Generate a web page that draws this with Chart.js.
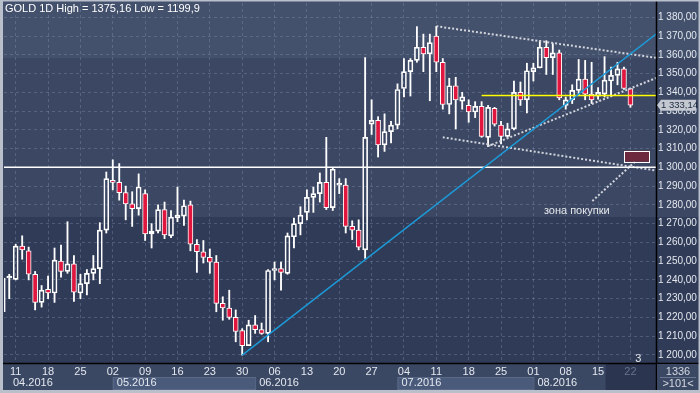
<!DOCTYPE html>
<html>
<head>
<meta charset="utf-8">
<script src="https://cdn.jsdelivr.net/npm/chart.js@4.4.1/dist/chart.umd.min.js"></script>
<style>
    html, body { margin: 0; padding: 0; background: #3a4661; }
</style>
</head>
<body>
<canvas id="goldChart" width="700" height="393"></canvas>
<script>
// GOLD daily candles, one per trading day (index 0 = 07.04.2016)
const opens = [
    1223, 1241, 1240.3, 1258, 1255.5, 1243, 1228, 1235, 1233, 1250,
    1244.5, 1248.5, 1233, 1238, 1243.5, 1246, 1266.5, 1293, 1292, 1286.5,
    1280.5, 1278, 1286, 1264.5, 1266, 1277.5, 1263.5, 1273, 1274, 1280,
    1259, 1255, 1252, 1249.5, 1227.5, 1225, 1220, 1213, 1205, 1216,
    1213.5, 1211.5, 1245, 1246, 1243.5, 1263, 1270, 1276, 1284, 1286,
    1292, 1278.5, 1290.5, 1290.5, 1268.5, 1266.5, 1256, 1323, 1325, 1312,
    1319, 1322.5, 1342, 1351, 1357, 1364, 1360.5, 1370, 1356, 1333.5,
    1343.5, 1335.3, 1333, 1329.5, 1332.5, 1316, 1331.5, 1322.5, 1316.5, 1320.5,
    1340, 1336, 1351, 1353, 1364, 1358.5, 1361, 1333, 1336, 1341,
    1347, 1339, 1338, 1339, 1346, 1349, 1352.5, 1342
];
const highs = [
    1241.5, 1243, 1259, 1263.5, 1257.5, 1244.5, 1237, 1242, 1257, 1258.5,
    1271, 1253, 1243, 1245.5, 1253, 1270.5, 1297.5, 1304, 1302, 1290,
    1287, 1296.5, 1288, 1270, 1280, 1281.5, 1277, 1289.5, 1282.5, 1282,
    1261.5, 1261, 1256.5, 1253, 1231, 1234.5, 1224, 1214, 1218.5, 1221,
    1217, 1245.5, 1249.5, 1249.5, 1265, 1273, 1279, 1288, 1289.5, 1297,
    1316, 1300, 1294, 1294, 1271.5, 1272, 1358.5, 1336, 1327, 1328.5,
    1324.5, 1344.5, 1358, 1358, 1375, 1371, 1371, 1375.16, 1358, 1347.5,
    1348, 1340, 1336, 1335, 1335, 1333, 1332, 1324.5, 1323.5, 1346,
    1345.5, 1355.5, 1355.5, 1367.5, 1367.5, 1366, 1362.5, 1337.5, 1344, 1357.5,
    1357, 1356, 1342.5, 1359, 1353.5, 1356, 1353.5, 1342
];
const lows = [
    1221, 1230, 1240, 1251, 1240, 1224, 1225.5, 1230, 1228, 1241.5,
    1243.5, 1228.5, 1230, 1232, 1240, 1238, 1265, 1288, 1282.5, 1272,
    1268.5, 1274.5, 1261, 1257, 1265, 1262, 1262.5, 1271, 1269, 1255.5,
    1244, 1249, 1243.5, 1223, 1218.5, 1219, 1207, 1199.9, 1205, 1211.5,
    1211, 1207, 1240, 1234.5, 1243, 1257, 1264, 1272, 1276, 1281.5,
    1277.5, 1277, 1286, 1265, 1261.5, 1256, 1251.5, 1317.5, 1305.5, 1308.5,
    1313, 1320.5, 1337.5, 1338, 1356, 1351, 1335.5, 1351, 1331, 1328.5,
    1320.5, 1331, 1324, 1326.5, 1316, 1311, 1322, 1312.5, 1316, 1320,
    1333, 1329, 1346, 1353, 1349.5, 1349.5, 1336, 1331, 1334, 1338.5,
    1336, 1334, 1336.3, 1337.5, 1338, 1344, 1341.5, 1332
];
const closes = [
    1241, 1241.5, 1258, 1256, 1243, 1228, 1234.5, 1233, 1250.5, 1244.5,
    1248.5, 1233.5, 1238, 1243.5, 1246, 1266.5, 1294, 1292, 1286.5, 1280.5,
    1278, 1289.5, 1264.5, 1266, 1277.5, 1264, 1273.5, 1274.5, 1279.5, 1259,
    1255, 1252, 1249.5, 1227.5, 1225, 1220, 1212.5, 1205, 1216, 1213.5,
    1211.5, 1245, 1246, 1244, 1263.5, 1270, 1274.5, 1284, 1286, 1292,
    1278.5, 1299, 1291, 1268.5, 1266.5, 1257.5, 1316, 1325, 1312, 1319,
    1322.5, 1341.5, 1351, 1357, 1364, 1360.5, 1366.5, 1356, 1333.5, 1343.5,
    1336, 1337.6, 1329.5, 1332.5, 1316.5, 1332, 1323, 1316.5, 1320.5, 1340,
    1336, 1351.5, 1353, 1364, 1358.5, 1361, 1337, 1336, 1341, 1347,
    1339, 1336, 1340, 1346.5, 1349, 1352.5, 1342, 1333.14
];

// time axis (Mondays) and months
const weekIndex = [2, 7, 12, 17, 22, 27, 32, 37, 42, 47, 52, 57, 62, 67, 72, 77, 82, 87, 92, 97];
const weekLabels = ['11', '18', '25', '02', '09', '16', '23', '30', '06', '13', '20', '27',
                    '04', '11', '18', '25', '01', '08', '15', '22'];
const monthIndex = [-4, 17, 39, 61, 82];
const monthLabels = ['04.2016', '05.2016', '06.2016', '07.2016', '08.2016'];
const priceTicks = [1200, 1210, 1220, 1230, 1240, 1250, 1260, 1270, 1280, 1290,
                    1300, 1310, 1320, 1330, 1340, 1350, 1360, 1370, 1380];

// drawings on the chart (bar index, price)
const trendLine = [{x: 37, y: 1199.9}, {x: 100.95, y: 1371}];
const channelTop = [{x: 67, y: 1375.2}, {x: 100.95, y: 1358.4}];
const channelBottom = [{x: 68, y: 1316}, {x: 100.95, y: 1298.3}];
const channelMid = [{x: 75, y: 1311.3}, {x: 100.95, y: 1347.6}];
const levelLine = [{x: -1, y: 1300}, {x: 102, y: 1300}];
const yellowLine = [{x: 74, y: 1338.3}, {x: 102, y: 1338.3}];
const zoneLeader = [{x: 97.7, y: 1303}, {x: 91, y: 1281.7}];
const buyZone = {x0: 96.05, x1: 99.87, y0: 1303, y1: 1308.9};
const buyZoneText = {x: 88.7, y: 1276.7, text: 'зона покупки'};
const lastPrice = 1333.14;
const futureFrom = 93.15;
const cornerValue = '1336';
const cornerBars = '>101<';

const FONT = "'Liberation Sans Narrow', 'Liberation Sans', Arial, sans-serif";
const RED = '#e0163e';
const DOTS = '#d2d5dc';

const fmtPrice = v => {
    const s = v.toFixed(2).replace('.', ',');
    return s.slice(0, 1) + ' ' + s.slice(1);
};
const fmtPlain = v => String(v).replace('.', ',');

const bodyData = opens.map((o, i) => ({x: i, y: [o, closes[i]]}));
const upperWick = highs.map((h, i) => ({x: i, y: [Math.max(opens[i], closes[i]), h]}));
const lowerWick = lows.map((l, i) => ({x: i, y: [l, Math.min(opens[i], closes[i])]}));

function dotted(data) {
    return {
        type: 'line', data: data, borderColor: DOTS, borderWidth: 2,
        borderDash: [2, 2], pointRadius: 0, fill: false, order: 0
    };
}

// background bands + axis strip
const backdrop = {
    id: 'backdrop',
    beforeDraw(chart) {
        const {ctx, width, height, chartArea} = chart;
        const x = chart.scales.x;
        ctx.save();
        ctx.fillStyle = '#44516c';
        ctx.fillRect(0, 0, width, 58);
        ctx.fillStyle = '#3b4763';
        ctx.fillRect(0, 58, width, 159);
        ctx.fillStyle = '#303b57';
        ctx.fillRect(0, 217, width, height - 217);

        // time axis strip
        const top = chartArea.bottom;
        ctx.fillStyle = '#3b4864';
        ctx.fillRect(0, top, width, height - top);
        ctx.fillStyle = '#2b3550';
        const fx = x.getPixelForValue(futureFrom);
        ctx.fillRect(fx, top, chartArea.right - fx, height - top);

        ctx.font = '11px ' + FONT;
        ctx.textBaseline = 'middle';
        ctx.textAlign = 'left';
        monthIndex.forEach((m, k) => {
            const x0 = Math.max(x.getPixelForValue(m), chartArea.left);
            const x1 = k < monthIndex.length - 1 ? x.getPixelForValue(monthIndex[k + 1]) : fx;
            if (k % 2 === 1) {
                ctx.fillStyle = '#4a5a7a';
                ctx.fillRect(x0, top + 14, x1 - x0, 13);
                ctx.strokeStyle = '#5a6986';
                ctx.lineWidth = 1;
                ctx.strokeRect(x0 + 0.5, top + 14.5, x1 - x0, 12);
            }
            ctx.fillStyle = '#e4e8ef';
            ctx.fillText(monthLabels[k], Math.max(x0, chartArea.left + 5) + 4, top + 20);
        });
        ctx.restore();
    },
    afterDraw(chart) {
        const {ctx, width, height, chartArea} = chart;
        const x = chart.scales.x, y = chart.scales.y;
        ctx.save();

        // buy zone box
        const bx0 = x.getPixelForValue(buyZone.x0), bx1 = x.getPixelForValue(buyZone.x1);
        const by0 = y.getPixelForValue(buyZone.y1), by1 = y.getPixelForValue(buyZone.y0);
        ctx.fillStyle = '#6d2a3e';
        ctx.fillRect(bx0, by0, bx1 - bx0, by1 - by0);
        ctx.strokeStyle = '#ffffff';
        ctx.lineWidth = 1;
        ctx.strokeRect(Math.round(bx0) + 0.5, Math.round(by0) + 0.5, Math.round(bx1 - bx0), Math.round(by1 - by0));

        ctx.font = '11px ' + FONT;
        ctx.textBaseline = 'middle';
        ctx.textAlign = 'center';
        ctx.fillStyle = '#e6e8ec';
        ctx.fillText(buyZoneText.text, x.getPixelForValue(buyZoneText.x), y.getPixelForValue(buyZoneText.y));
        ctx.fillText('3', x.getPixelForValue(98.2), y.getPixelForValue(1198));

        // title
        const hi = Math.max(...highs), lo = Math.min(...lows);
        ctx.textAlign = 'left';
        ctx.fillStyle = '#ffffff';
        ctx.fillText('GOLD 1D High = ' + fmtPlain(hi) + ' Low = ' + fmtPlain(lo), 5, 9);

        // separators
        ctx.strokeStyle = '#000000';
        ctx.lineWidth = 1.5;
        ctx.beginPath();
        ctx.moveTo(chartArea.right + 0.5, 0);
        ctx.lineTo(chartArea.right + 0.5, height);
        ctx.moveTo(0, chartArea.bottom + 0.5);
        ctx.lineTo(width, chartArea.bottom + 0.5);
        ctx.stroke();

        // last price tag
        const py = y.getPixelForValue(lastPrice);
        ctx.fillStyle = '#c3c8d1';
        ctx.beginPath();
        ctx.moveTo(chartArea.right + 1, py);
        ctx.lineTo(chartArea.right + 5, py - 5.5);
        ctx.lineTo(696, py - 5.5);
        ctx.lineTo(696, py + 5.5);
        ctx.lineTo(chartArea.right + 5, py + 5.5);
        ctx.closePath();
        ctx.fill();
        ctx.font = '9.5px ' + FONT;
        ctx.fillStyle = '#1e2940';
        ctx.fillText(fmtPrice(lastPrice), chartArea.right + 5, py + 0.5);

        // bottom right corner
        ctx.fillStyle = '#3b4864';
        ctx.fillRect(chartArea.right + 1, chartArea.bottom + 1, width - chartArea.right - 1, height - chartArea.bottom - 1);
        ctx.strokeStyle = '#6a7690';
        ctx.lineWidth = 1;
        ctx.beginPath();
        ctx.moveTo(chartArea.right + 4, chartArea.bottom + 14.5);
        ctx.lineTo(width - 4, chartArea.bottom + 14.5);
        ctx.stroke();
        ctx.font = '11px ' + FONT;
        ctx.fillStyle = '#d4d8e0';
        ctx.textAlign = 'center';
        ctx.fillText(cornerValue, 678, chartArea.bottom + 8.5);
        ctx.fillText(cornerBars, 678, chartArea.bottom + 21);

        // frame
        ctx.strokeStyle = '#b9c0cb';
        ctx.lineWidth = 2;
        ctx.strokeRect(1, 0.5, width - 1.5, height - 1.5);
        ctx.fillStyle = '#b9c0cb';
        ctx.fillRect(0, 0, 3, height);
        ctx.fillRect(0, height - 3, width, 3);
        ctx.restore();
    }
};

new Chart(document.getElementById('goldChart'), {
    type: 'bar',
    data: {
        datasets: [
            { type: 'line', data: trendLine, borderColor: '#1c9ad8', borderWidth: 1.5,
              pointRadius: 0, fill: false, order: 0 },
            { type: 'line', data: levelLine, borderColor: '#ffffff', borderWidth: 1.5,
              pointRadius: 0, fill: false, order: 0 },
            { type: 'line', data: yellowLine, borderColor: '#ffff00', borderWidth: 1.5,
              pointRadius: 0, fill: false, order: 0 },
            dotted(channelTop),
            dotted(channelBottom),
            dotted(channelMid),
            dotted(zoneLeader),
            {
                data: bodyData, order: 1, grouped: false, barThickness: 5, minBarLength: 2,
                backgroundColor: ctx => closes[ctx.dataIndex] < opens[ctx.dataIndex] ? RED : 'rgba(0,0,0,0)',
                borderColor: '#ffffff', borderWidth: 1, borderSkipped: false
            },
            { data: upperWick, order: 2, grouped: false, barThickness: 1.2,
              backgroundColor: '#ffffff', borderWidth: 0 },
            { data: lowerWick, order: 2, grouped: false, barThickness: 1.2,
              backgroundColor: '#ffffff', borderWidth: 0 }
        ]
    },
    options: {
        responsive: false,
        animation: false,
        layout: { padding: { left: 4, top: 3, right: 0, bottom: 0 } },
        plugins: { legend: { display: false }, tooltip: { enabled: false } },
        scales: {
            x: {
                type: 'linear', min: 0.19, max: 100.95, offset: false,
                grid: { color: 'rgba(130, 146, 176, 0.38)', drawTicks: false, offset: false },
                border: { display: false, dash: [3, 3] },
                afterBuildTicks: s => { s.ticks = weekIndex.map(v => ({value: v})); },
                afterFit: s => { s.height = 30; s.paddingLeft = 0; s.paddingRight = 0; },
                ticks: {
                    autoSkip: false, maxRotation: 0, padding: 2,
                    font: { family: FONT, size: 11 },
                    color: ctx => ctx.index === weekIndex.length - 1 ? '#67738d' : '#e4e8ef',
                    callback: (v, i) => weekLabels[i]
                }
            },
            y: {
                type: 'linear', position: 'right', min: 1195.7, max: 1387.6,
                grid: { color: 'rgba(130, 146, 176, 0.38)', drawTicks: false },
                border: { display: false, dash: [3, 3] },
                afterBuildTicks: s => { s.ticks = priceTicks.map(v => ({value: v})); },
                afterFit: s => { s.width = 44; s.paddingTop = 0; s.paddingBottom = 0; },
                ticks: {
                    padding: 2,
                    font: { family: FONT, size: 10 },
                    color: '#e4e8ef',
                    callback: v => fmtPrice(v)
                }
            }
        }
    },
    plugins: [backdrop]
});
</script>
</body>
</html>
